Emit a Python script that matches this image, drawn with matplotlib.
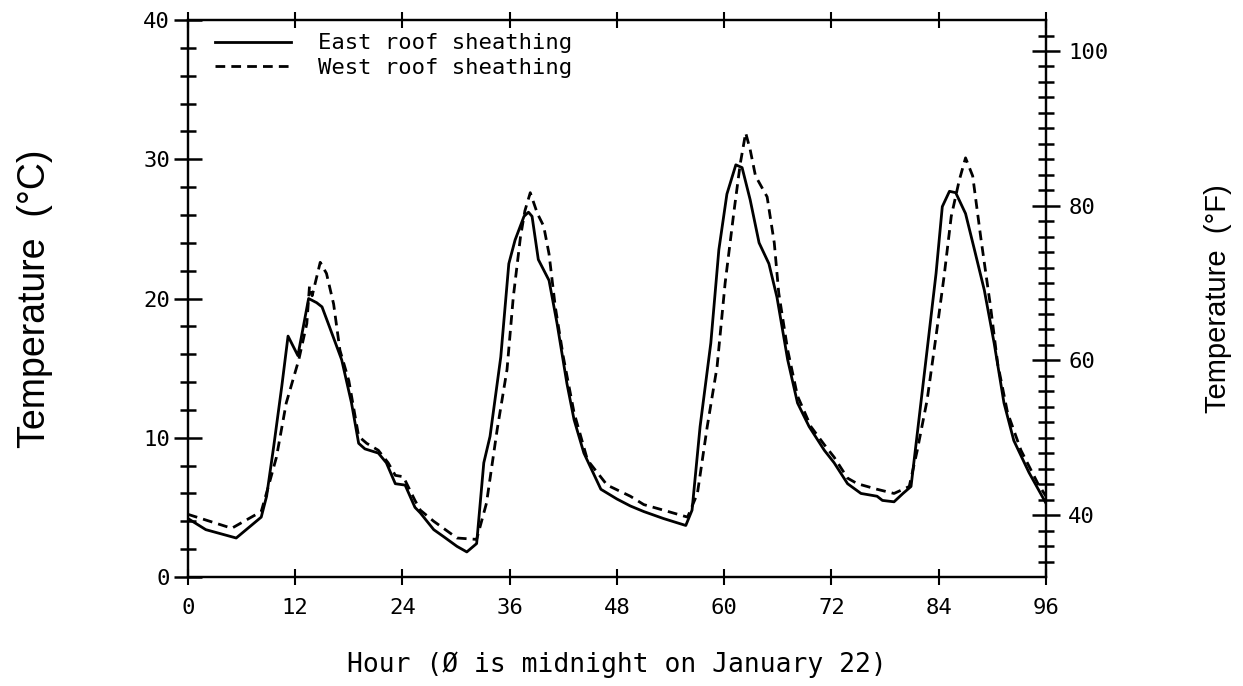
import numpy as np
import matplotlib
matplotlib.use("Agg")
import matplotlib.pyplot as plt
from matplotlib.ticker import MultipleLocator, FixedLocator

# east roof sheathing (solid), hour vs deg C
east_hours = [0, 2, 5.4, 8.2, 8.8, 9.6, 10.5, 11.2, 12.3, 13.5, 14.4, 15.0, 15.7, 17.2,
              18.3, 19.1, 19.8, 21.3, 22.2, 23.2, 24.3, 25.4, 26.0, 27.5, 28.6, 30.1,
              31.2, 32.3, 33.1, 33.8, 35.0, 35.9, 36.6, 37.6, 38.1, 38.5, 39.2, 40.4,
              41.3, 42.4, 43.2, 44.3, 46.2, 48.0, 49.5, 51.0, 53.2, 55.7, 56.4, 57.3,
              58.5, 59.4, 60.3, 61.3, 62.0, 62.9, 63.9, 65.0, 65.9, 67.1, 68.2, 69.5,
              71.2, 72.3, 73.8, 75.3, 77.1, 77.7, 79.0, 80.0, 80.9, 81.6, 82.7, 83.7,
              84.4, 85.2, 85.9, 87.0, 88.0, 89.1, 90.2, 91.3, 92.4, 94.1, 96.0]
east_temp = [4.2, 3.4, 2.8, 4.3, 5.8, 9.4, 13.7, 17.3, 15.9, 20.0, 19.7, 19.4, 18.2, 15.6,
             12.5, 9.6, 9.2, 8.9, 8.2, 6.7, 6.6, 5.0, 4.6, 3.4, 2.9, 2.2,
             1.8, 2.4, 8.2, 10.1, 15.8, 22.5, 24.2, 25.9, 26.2, 25.9, 22.8, 21.3,
             18.2, 13.9, 11.3, 8.9, 6.3, 5.6, 5.1, 4.7, 4.2, 3.7, 4.8, 10.8,
             16.8, 23.5, 27.5, 29.6, 29.4, 27.1, 24.0, 22.5, 20.1, 15.6, 12.5, 10.8,
             9.1, 8.2, 6.7, 6.0, 5.8, 5.5, 5.4, 6.0, 6.5, 10.3, 16.3, 21.8,
             26.6, 27.7, 27.6, 26.1, 23.5, 20.6, 16.8, 12.5, 9.8, 7.5, 5.3]

# west roof sheathing (dashed)
west_hours = [0, 4.9, 8.2, 9.0, 9.9, 11.0, 12.4, 13.3, 13.6, 13.9, 14.8, 15.5, 16.3, 17.0,
              18.0, 19.1, 20.0, 21.3, 22.4, 23.2, 24.1, 25.4, 26.0, 27.5, 30.1, 32.3,
              33.4, 34.6, 35.7, 36.4, 37.2, 37.7, 38.3, 39.1, 39.8, 40.4, 41.1, 42.0,
              43.2, 44.7, 46.9, 49.5, 51.0, 53.2, 55.9, 57.0, 58.1, 59.2, 60.1, 61.1,
              61.8, 62.4, 62.9, 63.5, 64.8, 65.6, 66.1, 67.1, 68.2, 69.7, 71.2, 72.3,
              73.8, 74.9, 77.1, 79.0, 80.7, 81.6, 82.7, 83.7, 84.6, 85.4, 86.3, 87.0,
              87.8, 88.7, 89.8, 90.6, 91.7, 93.2, 95.1, 96.0]
west_temp = [4.5, 3.5, 4.7, 6.5, 8.6, 12.5, 15.6, 18.2, 20.9, 20.2, 22.6, 21.8, 19.6, 16.3,
             14.1, 10.1, 9.6, 9.1, 8.2, 7.3, 7.2, 5.5, 4.8, 4.0, 2.8, 2.7,
             5.3, 10.6, 14.9, 20.1, 24.4, 26.3, 27.6, 26.1, 25.2, 23.2, 19.4, 15.8,
             11.8, 8.4, 6.6, 5.8, 5.2, 4.8, 4.3, 6.0, 10.8, 15.1, 21.1, 26.3,
             29.7, 31.9, 30.7, 28.8, 27.3, 24.0, 20.4, 16.3, 13.0, 10.8, 9.5, 8.6,
             7.1, 6.7, 6.3, 6.0, 6.5, 9.1, 12.7, 17.3, 21.6, 25.9, 28.5, 30.1,
             28.8, 24.4, 19.4, 15.3, 11.8, 9.1, 6.7, 5.8]

hour_ticks = [0, 12, 24, 36, 48, 60, 72, 84, 96]
f_ticks = [40, 60, 80, 100]

plot_font = "DejaVu Sans Mono"
label_font = "Liberation Sans"

fig = plt.figure(figsize=(12.43, 6.86), dpi=100)
ax = fig.add_axes([0.1512, 0.1589, 0.6903, 0.8119])

ax.plot(east_hours, east_temp, color="black", lw=2.0, label="East roof sheathing")
ax.plot(west_hours, west_temp, color="black", lw=2.0, dashes=(3.5, 2.2),
        label="West roof sheathing")

ax.set_xlim(0, 96)
ax.set_ylim(0, 40)
ax.xaxis.set_major_locator(FixedLocator(hour_ticks))
ax.yaxis.set_major_locator(MultipleLocator(10))
ax.yaxis.set_minor_locator(MultipleLocator(2))

for s in ax.spines.values():
    s.set_linewidth(1.6)

ax.tick_params(axis="x", which="major", direction="inout", length=12, width=1.5,
               top=True, pad=9, labelsize=16)
ax.tick_params(axis="y", which="major", direction="inout", length=20, width=1.8,
               pad=3, labelsize=16)
ax.tick_params(axis="y", which="minor", direction="inout", length=11, width=1.8)
for lab in ax.get_xticklabels() + ax.get_yticklabels():
    lab.set_family(plot_font)

# fahrenheit scale on the right
ax2 = ax.twinx()
ax2.set_ylim(32, 104)
ax2.yaxis.set_major_locator(FixedLocator(f_ticks))
ax2.yaxis.set_minor_locator(FixedLocator(list(range(34, 104, 2))))
ax2.tick_params(axis="y", which="major", direction="inout", length=20, width=1.8,
                pad=6, labelsize=16)
ax2.tick_params(axis="y", which="minor", direction="inout", length=11, width=1.8)
for lab in ax2.get_yticklabels():
    lab.set_family(plot_font)
for s in ax2.spines.values():
    s.set_linewidth(1.6)

ax.set_xlabel("Hour (\u00d8 is midnight on January 22)", family=plot_font,
              fontsize=19, va="center")
ax.xaxis.set_label_coords(0.5, -0.158)
ax.set_ylabel("Temperature  (\u00b0C)", family=label_font, fontsize=27, va="center")
ax.yaxis.set_label_coords(-0.1785, 0.5)
ax2.set_ylabel("Temperature  (\u00b0F)", family=label_font, fontsize=21, va="center")
ax2.yaxis.set_label_coords(1.2007, 0.5)

leg = ax.legend(loc="upper left", bbox_to_anchor=(0.032, 0.976), frameon=False,
                prop={"family": plot_font, "size": 16}, handlelength=3.4,
                handletextpad=1.2, labelspacing=0.2, borderpad=0, borderaxespad=0)

fig.savefig("out.png", dpi=100)
